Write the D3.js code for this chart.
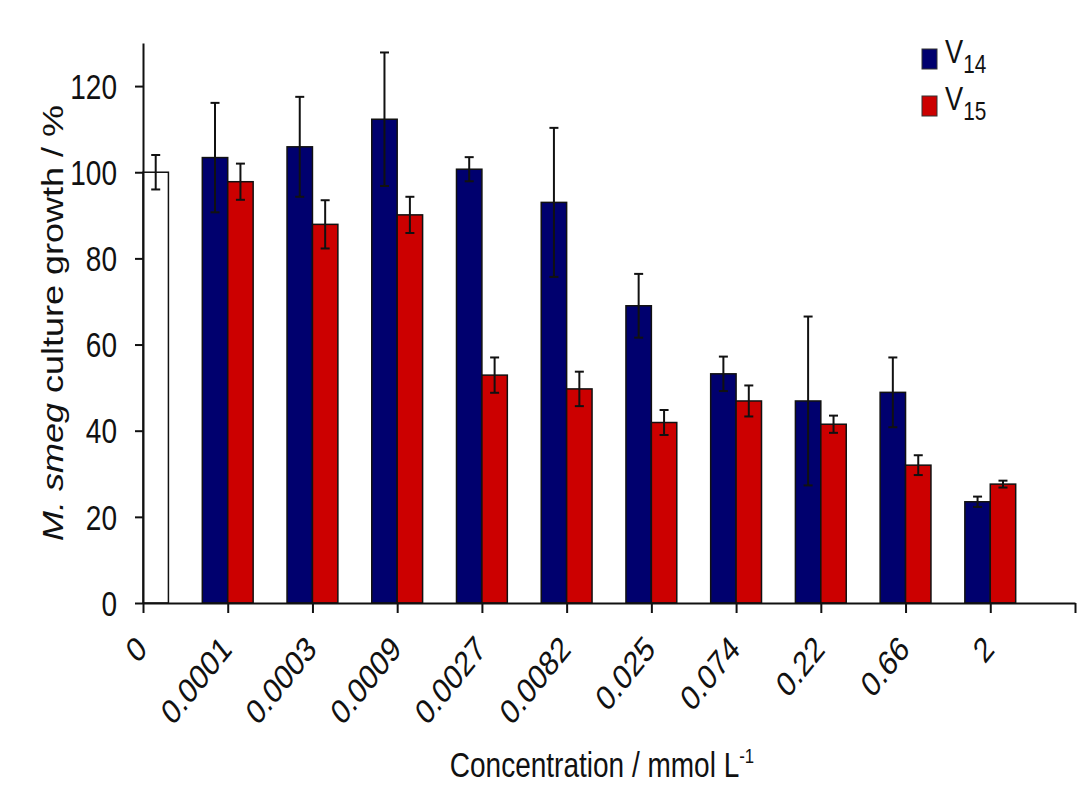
<!DOCTYPE html>
<html>
<head>
<meta charset="utf-8">
<script src="https://cdn.jsdelivr.net/npm/d3@7/dist/d3.min.js"></script>
<style>
  body { margin: 0; background: #fff; }
  svg text { font-family: "Liberation Sans", Arial, sans-serif; fill: #111; }
</style>
</head>
<body>
<div id="viz"></div>
<script>
/* M. smeg growth vs concentration, V14 / V15 bars with error bars */

var concentrations = ["0", "0.0001", "0.0003", "0.0009", "0.0027", "0.0082", "0.025", "0.074", "0.22", "0.66", "2"];
var controlValue = [100];
var controlErr = [4];
var v14 = [103.4, 105.9, 112.3, 100.7, 93.0, 69.0, 53.2, 46.9, 48.9, 23.5];
var v14Err = [12.7, 11.6, 15.5, 2.8, 17.3, 7.4, 4.0, 19.6, 8.1, 1.2];
var v15 = [97.8, 87.9, 90.1, 52.9, 49.7, 41.9, 46.9, 41.5, 32.0, 27.6];
var v15Err = [4.2, 5.6, 4.2, 4.1, 4.0, 2.9, 3.6, 2.0, 2.3, 0.8];
var yTickValues = [0, 20, 40, 60, 80, 100, 120];
var seriesNames = ["14", "15"];
var seriesColors = ["#00006e", "#cc0000"];

var width = 1091,
    height = 801,
    squeeze = 'scale(0.8,1)';

var svg = d3.select('#viz').append('svg')
    .attr('width', width)
    .attr('height', height);

svg.append('rect')
    .attr('width', width)
    .attr('height', height)
    .attr('fill', '#fff');

// last slot has no label, it only closes the axis
var xScale = d3.scalePoint()
    .domain(concentrations.concat(['end']))
    .range([143, 1075]);

var step = xScale.step(),
    barW = step * 0.3;

var yScale = d3.scaleLinear()
    .domain([0, 130])
    .range([603, 43]);

// one record per bar: category, value, error, offset from tick, fill
var bars = [];
bars.push({ c: concentrations[0], v: controlValue[0], e: controlErr[0], off: 0, fill: '#fff' });
v14.forEach(function(d, i) {
  bars.push({ c: concentrations[i + 1], v: d, e: v14Err[i], off: -barW, fill: seriesColors[0] });
  bars.push({ c: concentrations[i + 1], v: v15[i], e: v15Err[i], off: 0, fill: seriesColors[1] });
});

var barG = svg.append('g');

barG.selectAll('rect')
    .data(bars)
    .enter().append('rect')
      .attr('x', function(d) { return xScale(d.c) + d.off; })
      .attr('y', function(d) { return yScale(d.v); })
      .attr('width', barW)
      .attr('height', function(d) { return yScale(0) - yScale(d.v); })
      .attr('fill', function(d) { return d.fill; })
      .attr('stroke', '#111')
      .attr('stroke-width', 1.5);

var errG = barG.selectAll('g.err')
    .data(bars)
    .enter().append('g')
      .attr('class', 'err')
      .attr('stroke', '#111')
      .attr('stroke-width', 2);

errG.append('line')
    .attr('x1', function(d) { return xScale(d.c) + d.off + barW / 2; })
    .attr('x2', function(d) { return xScale(d.c) + d.off + barW / 2; })
    .attr('y1', function(d) { return yScale(d.v + d.e); })
    .attr('y2', function(d) { return yScale(d.v - d.e); });

[1, -1].forEach(function(sign) {
  errG.append('line')
      .attr('x1', function(d) { return xScale(d.c) + d.off + barW / 2 - 4.5; })
      .attr('x2', function(d) { return xScale(d.c) + d.off + barW / 2 + 4.5; })
      .attr('y1', function(d) { return yScale(d.v + sign * d.e); })
      .attr('y2', function(d) { return yScale(d.v + sign * d.e); });
});

// y axis
var yGuide = svg.append('g')
    .attr('transform', 'translate(143,0)')
    .call(d3.axisLeft(yScale).tickValues(yTickValues).tickSize(8).tickSizeOuter(0));

yGuide.select('.domain').attr('stroke', '#111').attr('stroke-width', 2);
yGuide.selectAll('.tick line').attr('stroke', '#111').attr('stroke-width', 2);
yGuide.selectAll('.tick text')
    .attr('x', 0)
    .attr('dy', '0.35em')
    .attr('transform', 'translate(-26,0) ' + squeeze)
    .attr('font-size', 35)
    .attr('font-family', '"Liberation Sans", Arial, sans-serif')
    .attr('fill', '#111');

// x axis
var xGuide = svg.append('g')
    .attr('transform', 'translate(0,603)')
    .call(d3.axisBottom(xScale).tickSize(10).tickSizeOuter(0)
      .tickFormat(function(d) { return d === 'end' ? '' : d; }));

xGuide.select('.domain').attr('stroke', '#111').attr('stroke-width', 2);
xGuide.selectAll('.tick line').attr('stroke', '#111').attr('stroke-width', 2);
xGuide.selectAll('.tick text')
    .attr('x', 0)
    .attr('y', 0)
    .attr('dy', 0)
    .attr('text-anchor', 'end')
    .attr('transform', 'translate(5,48) ' + squeeze + ' rotate(-45)')
    .attr('font-size', 35)
    .attr('font-family', '"Liberation Sans", Arial, sans-serif')
    .attr('fill', '#111');

// axis titles
var yTitle = svg.append('text')
    .attr('transform', 'translate(63,323) ' + squeeze + ' rotate(-90)')
    .attr('text-anchor', 'middle')
    .attr('font-size', 36);
yTitle.append('tspan').attr('font-style', 'italic').text('M. smeg');
yTitle.append('tspan').text(' culture growth / %');

var xTitle = svg.append('text')
    .attr('transform', 'translate(602,777) ' + squeeze)
    .attr('text-anchor', 'middle')
    .attr('font-size', 35);
xTitle.append('tspan').text('Concentration / mmol L');
xTitle.append('tspan').attr('font-size', 21).attr('dy', -14).text('-1');

// legend
var legend = svg.append('g')
    .selectAll('g')
    .data(seriesNames)
    .enter().append('g')
    .attr('transform', function(d, i) {
      return 'translate(922,' + (49 + i * 47) + ')';
    });

legend.append('rect')
    .attr('width', 15)
    .attr('height', 20)
    .attr('fill', function(d, i) { return seriesColors[i]; })
    .attr('stroke', '#333')
    .attr('stroke-width', 1);

var legendText = legend.append('text')
    .attr('transform', 'translate(23,14) ' + squeeze)
    .attr('font-size', 34);
legendText.append('tspan').text('V');
legendText.append('tspan')
    .attr('font-size', 26)
    .attr('dy', 10)
    .text(function(d) { return d; });
</script>
</body>
</html>
